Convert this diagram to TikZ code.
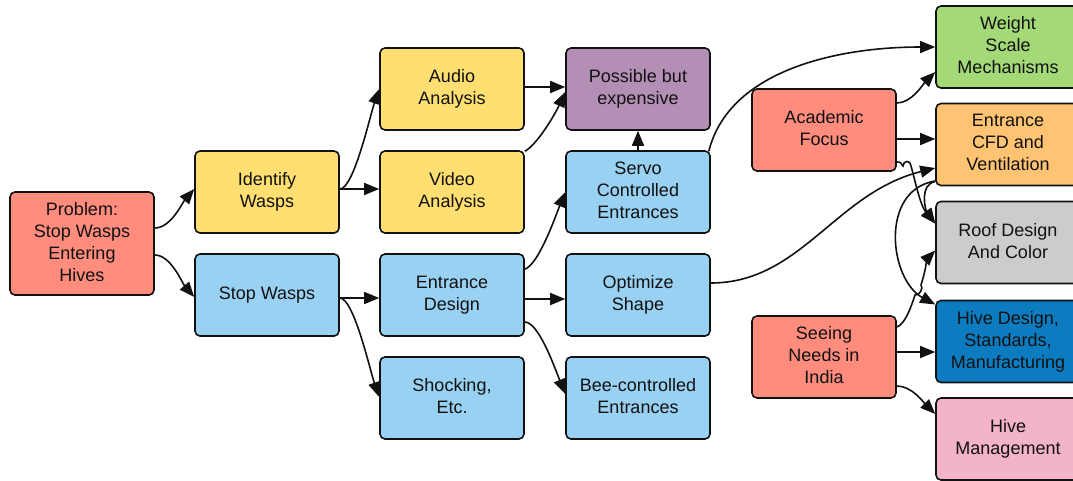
\documentclass[tikz,border=0pt]{standalone}
\usepackage{fontspec}
\setmainfont{Liberation Sans}
\usetikzlibrary{arrows.meta,calc}

\definecolor{cRed}{HTML}{FF8C7C}
\definecolor{cYellow}{HTML}{FFDE72}
\definecolor{cBlue}{HTML}{99D1F2}
\definecolor{cPurple}{HTML}{B38FB5}
\definecolor{cGreen}{HTML}{A3D977}
\definecolor{cOrange}{HTML}{FFC374}
\definecolor{cGray}{HTML}{CCCCCC}
\definecolor{cDeep}{HTML}{0C7BBF}
\definecolor{cPink}{HTML}{F4B4C8}
\definecolor{cInk}{HTML}{111111}

\tikzset{
  box/.style={draw=cInk, line width=1.6pt, rounded corners=5pt,
    minimum width=144pt, minimum height=82pt, inner sep=0pt,
    text depth=4pt,
    align=center, text=cInk, font=\fontsize{18}{22}\selectfont},
  arr/.style={draw=cInk, line width=1.6pt,
    -{Triangle[length=15pt,width=12pt]}},
  link/.style={draw=cInk, line width=1.6pt}
}

\begin{document}
\begin{tikzpicture}[x=1pt,y=-1pt]
\useasboundingbox (0,0) rectangle (1073,480);
\clip (0,0) rectangle (1073,480);

% column 1
\node[box, fill=cRed, minimum height=103pt] (problem) at (82,243.5) {Problem:\\Stop Wasps\\Entering\\Hives};
% column 2
\node[box, fill=cYellow] (identify) at (267,192) {Identify\\Wasps};
\node[box, fill=cBlue] (stop) at (267,295) {Stop Wasps};
% column 3
\node[box, fill=cYellow] (audio) at (452,89) {Audio\\Analysis};
\node[box, fill=cYellow] (video) at (452,192) {Video\\Analysis};
\node[box, fill=cBlue] (entr) at (452,295) {Entrance\\Design};
\node[box, fill=cBlue] (shock) at (452,398) {Shocking,\\Etc.};
% column 4
\node[box, fill=cPurple] (possible) at (638,89) {Possible but\\expensive};
\node[box, fill=cBlue] (servo) at (638,192) {Servo\\Controlled\\Entrances};
\node[box, fill=cBlue] (optim) at (638,295) {Optimize\\Shape};
\node[box, fill=cBlue] (bee) at (638,398) {Bee-controlled\\Entrances};
% column 5
\node[box, fill=cRed] (academic) at (824,130) {Academic\\Focus};
\node[box, fill=cRed] (seeing) at (824,357) {Seeing\\Needs in\\India};
% column 6
\node[box, fill=cGreen] (weight) at (1008,47) {Weight\\Scale\\Mechanisms};
\node[box, fill=cOrange] (cfd) at (1008,144.5) {Entrance\\CFD and\\Ventilation};
\node[box, fill=cGray] (roof) at (1008,242.5) {Roof Design\\And Color};
\node[box, fill=cDeep] (hive) at (1008,341.5) {Hive Design,\\Standards,\\Manufacturing};
\node[box, fill=cPink] (mgmt) at (1008,439) {Hive\\Management};

% problem split
\draw[arr] ($(problem.east)+(0,-15.5)$) .. controls +(16,0) and +(-12,14) .. ($(identify.west)+(0,-3)$);
\draw[arr] ($(problem.east)+(0,11.5)$) .. controls +(16,0) and +(-12,-14) .. ($(stop.west)+(0,2)$);

% identification branch
\draw[arr] ($(identify.east)+(0,-3)$) .. controls +(14,0) and +(-9,26) .. (audio.west);
\draw[arr] ($(identify.east)+(0,-3)$) -- ($(video.west)+(0,-3)$);
\draw[arr] ($(audio.east)+(0,-2)$) -- ($(possible.west)+(0,-2)$);
\draw[arr] ($(video.north east)+(0,1)$) .. controls +(12,-6) and +(-10,22) .. ($(possible.west)+(0,3)$);

% prevention branch
\draw[arr] ($(stop.east)+(0,3)$) -- ($(entr.west)+(0,3)$);
\draw[arr] ($(stop.east)+(0,3)$) .. controls +(14,0) and +(-9,-26) .. ($(shock.west)+(0,-1)$);
\draw[arr] ($(entr.north east)+(0,16)$) .. controls +(14,-5) and +(-10,25) .. (servo.west);
\draw[arr] ($(entr.east)+(0,4)$) -- ($(optim.west)+(0,4)$);
\draw[arr] ($(entr.east)+(0,27)$) .. controls +(14,0) and +(-10,-25) .. ($(bee.west)+(0,-4)$);
\draw[arr] (servo.north) -- (possible.south);

% links into the research topics
\draw[arr] ($(servo.north east)+(-2,1)$) .. controls +(20,-80) and +(-100,0) .. (weight.west);
\draw[arr] ($(academic.east)+(0,-27)$) .. controls +(15,0) and +(-12,12) .. ($(weight.west)+(0,25)$);
\draw[arr] ($(academic.east)+(0,9)$) -- ($(cfd.west)+(0,-5.5)$);
\draw[arr] ($(optim.east)+(0,-12)$) .. controls +(90,0) and +(-100,25) .. ($(cfd.west)+(0,23.5)$);
% academic focus to roof, hopping over the shape link
\draw[arr] ($(academic.east)+(0,32)$) .. controls +(5,0) and +(-3,-3) .. (903,166)
  .. controls (903,160) and (911,160) .. (911,166)
  .. controls (915,180) and (920,205) .. ($(roof.west)+(0,-19)$);
\draw[arr] ($(cfd.west)+(0,37)$) .. controls +(-16,3) and +(-10,-14) .. ($(roof.west)+(0,-19)$);
\draw[arr] ($(cfd.west)+(0,36.5)$) .. controls +(-56,9) and +(-46,-25) .. ($(hive.west)+(0,-37)$);
% seeing needs to roof, hopping over the ventilation link
\draw[arr] ($(seeing.east)+(0,-30)$) .. controls +(9,-3) and +(-3,9) .. (915,295)
  .. controls (919,296) and (924,288) .. (921,285)
  .. controls (925,272) and (928,258) .. ($(roof.west)+(0,8)$);
\draw[arr] ($(seeing.east)+(0,-5)$) -- ($(hive.west)+(0,10.5)$);
\draw[arr] ($(seeing.east)+(0,29)$) .. controls +(15,0) and +(-12,-12) .. ($(mgmt.west)+(0,-25)$);
\end{tikzpicture}
\end{document}
